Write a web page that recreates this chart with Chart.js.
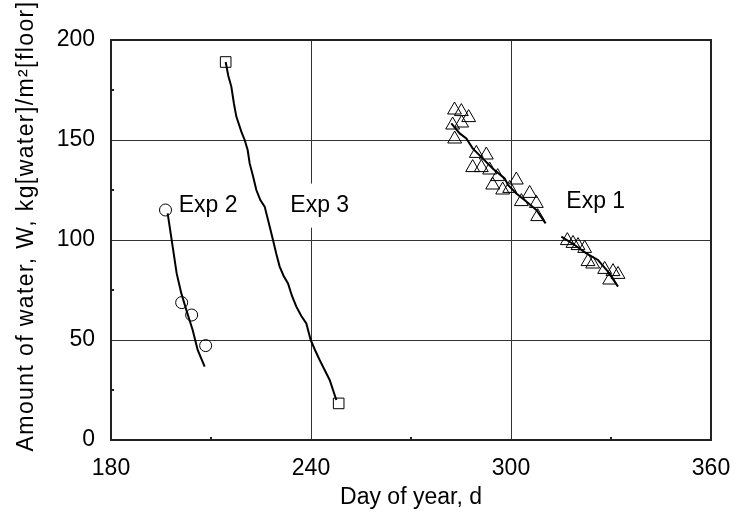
<!DOCTYPE html>
<html><head><meta charset="utf-8">
<script src="https://cdn.jsdelivr.net/npm/chart.js@4"></script>
<style>html,body{margin:0;padding:0;background:#fff}#wrap{width:734px;height:522px}</style>
</head><body><div id="wrap"><canvas id="c" width="734" height="522"></canvas></div>
<script>
// ---- data ----
const xTicks = [180, 240, 300, 360];
const yTicks = [0, 50, 100, 150, 200];

const exp1PointDays   = [282.5, 283.05, 283.1, 285.1, 285.2, 287.3, 288.5, 289.6, 291.1, 292.6, 293.6, 294.5, 296.0, 297.5, 299.6, 301.6, 303.1, 305.6, 307.6, 308.0,
                         316.9, 318.6, 320.1, 322.1, 323.1, 324.5, 328.1, 329.6, 330.6, 332.1];
const exp1PointValues = [157.5, 165, 150.5, 164.2, 158.5, 161.2, 136.2, 143.3, 136.2, 142.5, 135, 127.5, 131.7, 125, 125.8, 130, 119.2, 123.3, 118.3, 111.7,
                         99.7, 98.3, 97.2, 95.8, 89.2, 88, 85.3, 80, 84.2, 82.8];
const exp1LineDays    = [282.1, 284.6, 286.6, 288.5, 291.5, 294.5, 298.1, 299.1, 301.6, 304.6, 307.6, 310.4, null, 315.1, 319.1, 322.6, 326.1, 329.1, 332.1];
const exp1LineValues  = [158.3, 153.3, 150.8, 145.8, 140.8, 135.8, 130.8, 127.5, 123.3, 119.2, 115, 108.3, null, 101.7, 97.5, 93.3, 90, 84.2, 76.7];

const exp2PointDays   = [196.35, 201.2, 204.2, 208.4];
const exp2PointValues = [115, 68.7, 62.5, 47.2];
const exp2LineDays    = [197, 198.5, 199.7, 201.1, 202.6, 204.5, 206, 208.1];
const exp2LineValues  = [113.3, 96.7, 83.3, 73.3, 65, 55, 45, 36.7];

const exp3PointDays   = [214.4, 248.3];
const exp3PointValues = [189, 18.3];
const exp3LineDays    = [214.4, 215.2, 216.1, 216.9, 217.6, 219.1, 220.1, 221.0, 221.6, 222.6, 223.6, 224.8, 226.1, 227.6, 228.6, 229.6, 230.6, 231.8, 233.1, 234.3, 235.6, 237.1, 238.6, 239.9, 241.2, 242.6, 244.1, 245.6, 247.6];
const exp3LineValues  = [189, 182, 176.7, 168, 161.7, 154.2, 150, 145, 138.3, 132, 125, 120, 116.7, 106.7, 100, 93, 86.7, 82, 78.3, 72, 66.7, 62, 58.3, 50, 45, 40, 35, 30, 20];

const seriesLabels = ['Exp 1', 'Exp 2', 'Exp 3'];
const xTitle = 'Day of year, d';
const yTitle = 'Amount of water, W, kg[water]/m\u00B2[floor]';

// ---- helpers ----
const pts = (xs, ys) => xs.map((x, i) => (x === null ? {x: null, y: null} : {x: x, y: ys[i]}));
const FONT = '"Liberation Sans", Arial, sans-serif';
const FS = 23;

const lineDs = (label, xs, ys) => ({label, data: pts(xs, ys), showLine: true, spanGaps: false,
  borderColor: '#000', borderWidth: 2, pointRadius: 0, fill: false, tension: 0});
const markDs = (label, xs, ys, style, r) => ({label, data: pts(xs, ys), showLine: false,
  pointStyle: style, pointRadius: r, borderColor: '#000', pointBorderWidth: 1,
  pointBackgroundColor: 'rgba(0,0,0,0)', backgroundColor: 'rgba(0,0,0,0)'});

// annotation anchors in data units (left edge, vertical centre)
const annot = [
  {text: seriesLabels[1], x: 200.3, y: 117, box: false},
  {text: seriesLabels[2], x: 233.8, y: 117.2, box: true},
  {text: seriesLabels[0], x: 316.6, y: 119.2, box: false}
];

const decor = {
  id: 'decor',
  afterDatasetsDraw(chart) {
    const {ctx, chartArea: a, scales: {x, y}} = chart;
    ctx.save();
    ctx.font = FS + 'px ' + FONT;
    ctx.textBaseline = 'middle';
    ctx.textAlign = 'left';
    annot.forEach(t => {
      const px = x.getPixelForValue(t.x), py = y.getPixelForValue(t.y);
      const w = ctx.measureText(t.text).width;
      if (t.box) { ctx.fillStyle = '#fff'; ctx.fillRect(px - 3, py - 22, w + 6, 44); }
      ctx.fillStyle = '#000';
      ctx.fillText(t.text, px, py);
    });
    // frame
    ctx.strokeStyle = '#222'; ctx.lineWidth = 2;
    ctx.strokeRect(a.left, a.top, a.right - a.left, a.bottom - a.top);
    // minor inward ticks
    for (let i = 0; i < xTicks.length - 1; i++) {
      const px = x.getPixelForValue((xTicks[i] + xTicks[i + 1]) / 2);
      ctx.beginPath(); ctx.moveTo(px, a.bottom); ctx.lineTo(px, a.bottom - 3); ctx.stroke();
    }
    for (let i = 0; i < yTicks.length - 1; i++) {
      const py = y.getPixelForValue((yTicks[i] + yTicks[i + 1]) / 2);
      ctx.beginPath(); ctx.moveTo(a.left, py); ctx.lineTo(a.left + 3, py); ctx.stroke();
    }
    // y axis title
    ctx.translate(33, 226);
    ctx.rotate(-Math.PI / 2);
    ctx.textAlign = 'center'; ctx.textBaseline = 'alphabetic';
    ctx.fillStyle = '#000';
    try { ctx.letterSpacing = '1.4px'; } catch (e) {}
    ctx.fillText(yTitle, 0, 0);
    ctx.restore();
  }
};

new Chart(document.getElementById('c'), {
  type: 'scatter',
  data: {datasets: [
    lineDs(seriesLabels[0] + ' line', exp1LineDays, exp1LineValues),
    markDs(seriesLabels[0], exp1PointDays, exp1PointValues, 'triangle', 8),
    lineDs(seriesLabels[1] + ' line', exp2LineDays, exp2LineValues),
    markDs(seriesLabels[1], exp2PointDays, exp2PointValues, 'circle', 6),
    lineDs(seriesLabels[2] + ' line', exp3LineDays, exp3LineValues),
    markDs(seriesLabels[2], exp3PointDays, exp3PointValues, 'rect', 7.5)
  ]},
  options: {
    responsive: false, animation: false, devicePixelRatio: 1,
    layout: {padding: {top: 40, right: 23, left: 0, bottom: 0}},
    plugins: {legend: {display: false}, tooltip: {enabled: false}},
    scales: {
      x: {type: 'linear', min: xTicks[0], max: xTicks[xTicks.length - 1],
        afterBuildTicks: s => { s.ticks = xTicks.map(v => ({value: v})); },
        ticks: {font: {family: FONT, size: FS}, color: '#000', padding: 15, maxRotation: 0},
        grid: {color: '#333', lineWidth: 1, drawTicks: false},
        border: {display: false},
        title: {display: true, text: xTitle, font: {family: FONT, size: FS}, color: '#000', padding: {top: 0, bottom: 11}},
        afterFit: s => { s.height = 82; s.paddingLeft = 0; s.paddingRight = 0; }
      },
      y: {type: 'linear', min: yTicks[0], max: yTicks[yTicks.length - 1],
        afterBuildTicks: s => { s.ticks = yTicks.map(v => ({value: v})); },
        ticks: {font: {family: FONT, size: FS}, color: '#000', padding: 16},
        grid: {color: '#333', lineWidth: 1, drawTicks: false},
        border: {display: false},
        afterFit: s => { s.width = 111; s.paddingTop = 0; s.paddingBottom = 0; }
      }
    }
  },
  plugins: [decor]
});
</script>
</body></html>
